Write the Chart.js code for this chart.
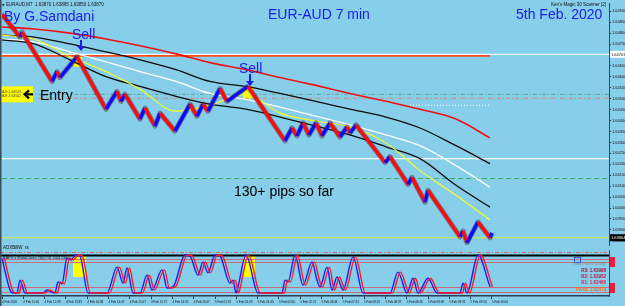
<!DOCTYPE html>
<html><head><meta charset="utf-8">
<script src="https://cdn.jsdelivr.net/npm/chart.js@4.4.1/dist/chart.umd.min.js"></script>
<style>
html,body{margin:0;padding:0;background:#87ceeb;}
#wrap{position:relative;width:625px;height:306px;overflow:hidden;background:#87ceeb;}
#c1{position:absolute;left:0;top:0;}
#c2{position:absolute;left:0;top:249px;}
</style></head><body>
<div id="wrap"><canvas id="c1" width="625" height="249"></canvas><canvas id="c2" width="625" height="57"></canvas></div>
<script>
// ---------- DATA ----------
const renkoBar   = [0,9,10,25,27.5,29,37.5,52,57.5,59.5,61.5,69,71.5,76.5,79,86.5,94,97.5,100.5,103,109,112.5,123,141.5,145,147.5,150.5,153.5,157,160,164,169,172.5,174,177,191.5,194,203,205,211.5,213,229,230.5,232.5,238,244,245];
const renkoPrice = [1.64886,1.64782,1.64805,1.64579,1.64624,1.64597,1.64692,1.64452,1.64533,1.64488,1.64520,1.64407,1.64457,1.64375,1.64434,1.64352,1.64475,1.64420,1.64475,1.64443,1.64547,1.64488,1.64556,1.64307,1.64366,1.64330,1.64389,1.64334,1.64389,1.64330,1.64389,1.64325,1.64371,1.64343,1.64380,1.64208,1.64235,1.64108,1.64140,1.64027,1.64081,1.63868,1.63895,1.63841,1.63936,1.63864,1.63886];

const maBar    = [0,16,34,52,69,87,104,122,139,157,174,192,209,227,244];
const maRed    = [1.64828,1.64819,1.64800,1.64773,1.64742,1.64705,1.64665,1.64633,1.64597,1.64561,1.64524,1.64488,1.64452,1.64407,1.64321];
const maBlack1 = [1.64791,1.64782,1.64751,1.64714,1.64678,1.64633,1.64579,1.64556,1.64524,1.64488,1.64452,1.64416,1.64366,1.64285,1.64203];
const maWhite  = [1.64773,1.64760,1.64714,1.64669,1.64624,1.64579,1.64524,1.64497,1.64461,1.64420,1.64380,1.64334,1.64285,1.64194,1.64095];
const maBlack2 = [1.64769,1.64751,1.64678,1.64601,1.64556,1.64511,1.64475,1.64452,1.64416,1.64375,1.64334,1.64280,1.64226,1.64104,1.64004];
const maYellow = [1.64791,1.64773,1.64692,1.64624,1.64543,1.64443,1.64470,1.64520,1.64434,1.64398,1.64371,1.64298,1.64171,1.64058,1.63945];

// horizontal price levels
const levelWhite = 1.64703, levelOrange = 1.64696, levelGreenDD = 1.64520, levelRedDD = 1.64502;
const levelWhite2 = 1.64226, levelGreenDash = 1.64135, levelBid = 1.63864, levelDotted = 1.64470;
const entryPrice = 1.64520;
const sellBar = [37.5, 123];
const sellPrice = [1.64692, 1.64556];

const oscBar   = [0,4,5.5,7.5,9,11.5,20.5,22.5,24.5,26.5,28,30,32.5,34.5,37,39,43,52.5,57.5,60.5,62.5,65.5,69,72.5,75,80,82.5,85.5,91.5,94,98,100.5,103,106.5,109,114,115.5,117,118,122,128,140,141.5,143,146.5,150.5,155,157.5,159,162.5,165,167.5,170.5,175.5,180.5,194,198,202.5,205.5,208,213,217.5,229,230.5,232.5,238,244];
const oscValue = [92,8,0,0,34,0,0,8,3,0,29,24,92,87,100,97,0,0,68,26,66,0,0,47,8,61,13,16,100,97,47,82,53,100,97,26,34,0,16,100,0,0,34,29,100,21,82,34,16,68,8,42,8,95,0,0,55,0,39,0,39,0,0,26,0,100,16];
const oscLevels = [109, 101, 90, 82, 16, 3];
const oscBoxBars = [[35.5,42],[120.5,126.5]];

const timeLabels = ["4 Feb 2020","4 Feb 11:00","4 Feb 12:49","4 Feb 13:33","4 Feb 14:08","4 Feb 14:47","4 Feb 15:07","4 Feb 15:57","4 Feb 16:31","4 Feb 20:07","5 Feb 01:23","5 Feb 01:29","5 Feb 01:40","5 Feb 02:00","5 Feb 02:21","5 Feb 03:44","5 Feb 07:23","5 Feb 08:25","5 Feb 08:37","5 Feb 08:46","5 Feb 09:09","5 Feb 09:31","5 Feb 09:54","5 Feb 10:04"];
const pivotLabels = ["R3: 1.63998","R2: 1.63952","R1: 1.63466","Pivot: 1.63473"];

// ---------- LAYOUT CONSTANTS ----------
const X_MAX = 303.5, LABEL_STEP = 10.65;
const Y_MIN = 1.63828, Y_MAX = 1.64936;
const FONT = '"Liberation Sans", Arial, sans-serif';
const NARROW = '"Liberation Sans Narrow", "Liberation Sans", Arial, sans-serif';
const pts = (xs, ys) => xs.map((x, i) => ({x, y: ys[i]}));
const hline = (p, x0, x1) => [{x: x0, y: p}, {x: x1, y: p}];

const lineDs = (data, color, width, extra) => Object.assign({
  data, borderColor: color, borderWidth: width, pointRadius: 0, fill: false,
  tension: 0, borderJoinStyle: 'round', borderCapStyle: 'butt'
}, extra || {});

// ---------- MAIN CHART ----------
const deco1 = {
  id: 'deco1',
  beforeDatasetsDraw(chart) {
    const {ctx, scales: {x, y}} = chart;
    ctx.save();
    ctx.fillStyle = '#ffff00';
    const offs = [[-3, 5, -1, 10], [-5, 5, 0, 12]];
    sellBar.forEach((b, i) => {
      const px = x.getPixelForValue(b), py = y.getPixelForValue(sellPrice[i]);
      const o = offs[i];
      ctx.fillRect(px + o[0], py + o[2], o[1] - o[0], o[3] - o[2]);
    });
    ctx.restore();
  },
  afterDatasetsDraw(chart) {
    const {ctx, scales: {x, y}} = chart;
    ctx.save();
    ctx.fillStyle = '#111';
    ctx.font = '4.5px ' + FONT;
    ctx.textBaseline = 'alphabetic';
    ctx.fillText('\u25CF EURAUD,M7  1.63870 1.63895 1.63850 1.63870', 2, 6);
    ctx.textAlign = 'right';
    ctx.fillText("Ken's Magic 30 Scanner [2]", 606, 5.5);
    ctx.textAlign = 'left';
    ctx.fillText('ADXBillW_rs', 3, 248.5);

    ctx.fillStyle = '#1c1ce8';
    ctx.font = '14px ' + FONT;
    ctx.fillText('By G.Samdani', 4, 21);
    ctx.fillText('EUR-AUD 7 min', 268, 19);
    ctx.fillText('5th Feb. 2020', 516, 19);
    ctx.fillText('Sell', 72, 39);
    ctx.fillText('Sell', 239, 73);
    const arrow = (ax, y0, y1) => {
      ctx.strokeStyle = '#1c1ce8'; ctx.lineWidth = 2;
      ctx.beginPath(); ctx.moveTo(ax, y0); ctx.lineTo(ax, y1 - 4); ctx.stroke();
      ctx.beginPath(); ctx.moveTo(ax - 4, y1 - 5); ctx.lineTo(ax + 4, y1 - 5); ctx.lineTo(ax, y1); ctx.closePath();
      ctx.fillStyle = '#1c1ce8'; ctx.fill();
    };
    arrow(81, 40, 51);
    arrow(250, 74, 86);

    const ey = y.getPixelForValue(entryPrice);
    ctx.fillStyle = '#ffff00';
    ctx.fillRect(1, ey - 8, 32, 16);
    ctx.fillStyle = '#444';
    ctx.font = '3.5px ' + FONT;
    ctx.fillText('A.E.1.64520 ..', 2, ey - 1);
    ctx.fillText('A.E.1.64502 ..', 2, ey + 3);
    ctx.strokeStyle = '#000'; ctx.lineWidth = 2.2;
    ctx.beginPath(); ctx.moveTo(33, ey); ctx.lineTo(25, ey); ctx.stroke();
    ctx.beginPath(); ctx.moveTo(29, ey - 4); ctx.lineTo(24.5, ey); ctx.lineTo(29, ey + 4); ctx.stroke();
    ctx.fillStyle = '#000';
    ctx.font = '14px ' + FONT;
    ctx.fillText('Entry', 40, ey + 6);
    ctx.fillText('130+ pips so far', 234, 196);

    ctx.font = '4px ' + NARROW;
    const wy = y.getPixelForValue(levelWhite);
    ctx.fillStyle = '#ffffff'; ctx.fillRect(610, wy - 3.5, 15, 7);
    ctx.fillStyle = '#111'; ctx.fillText(levelWhite.toFixed(5), 611, wy + 1.5);
    const by = y.getPixelForValue(levelBid);
    ctx.fillStyle = '#000'; ctx.fillRect(610, by - 3.5, 15, 7);
    ctx.fillStyle = '#fff'; ctx.fillText(levelBid.toFixed(5), 611, by + 1.5);

    ctx.fillStyle = '#3c4c5c';
    ctx.fillRect(0, 0, 1.5, chart.height);
    ctx.restore();
  }
};

const renkoSeg = { borderColor: c => (c.p1.parsed.y > c.p0.parsed.y ? '#0a0aff' : '#ff0a0a') };

new Chart(document.getElementById('c1'), {
  type: 'line',
  data: {
    datasets: [
      lineDs(pts(renkoBar, renkoPrice), '#ff0a0a', 3.4, { segment: renkoSeg }),
      lineDs(pts(renkoBar, renkoPrice), 'rgba(70,25,30,0.42)', 5.2),
      lineDs(pts(maBar, maYellow), '#ffff1a', 1.1, { cubicInterpolationMode: 'monotone' }),
      lineDs(pts(maBar, maBlack2), '#0d0d0d', 1.3, { cubicInterpolationMode: 'monotone' }),
      lineDs(pts(maBar, maWhite), '#ffffff', 1.3, { cubicInterpolationMode: 'monotone' }),
      lineDs(pts(maBar, maBlack1), '#0d0d0d', 1.3, { cubicInterpolationMode: 'monotone' }),
      lineDs(pts(maBar, maRed), '#f01010', 1.6, { cubicInterpolationMode: 'monotone' }),
      lineDs(hline(levelOrange, 0, 244), '#ff4a1a', 1.6),
      lineDs(hline(levelWhite, 0, X_MAX), '#ffffff', 1.4),
      lineDs(hline(levelDotted, 204, 244), '#ffffff', 1, { borderDash: [1, 2] }),
      lineDs(hline(levelGreenDD, 0, X_MAX), '#5fa88a', 1, { borderDash: [4, 2, 1, 2] }),
      lineDs(hline(levelRedDD, 0, X_MAX), '#d98a70', 1, { borderDash: [4, 2, 1, 2] }),
      lineDs(hline(levelWhite2, 0, X_MAX), '#ffffff', 1.4),
      lineDs(hline(levelGreenDash, 0, X_MAX), '#3cae6a', 1.2, { borderDash: [5, 3] }),
      lineDs(hline(levelBid, 0, X_MAX), '#d8e83a', 1.2)
    ]
  },
  options: {
    responsive: false, animation: false, events: [],
    layout: { padding: { left: 2, top: 1, bottom: 3, right: 0 } },
    plugins: { legend: { display: false }, tooltip: { enabled: false } },
    scales: {
      x: { type: 'linear', display: false, min: 0, max: X_MAX },
      y: {
        position: 'right', min: Y_MIN, max: Y_MAX,
        afterFit: s => { s.width = 16; },
        grid: { drawOnChartArea: false, tickLength: 2, color: '#333' },
        border: { color: '#34495c', width: 1 },
        ticks: { stepSize: 0.0005, includeBounds: false, padding: 1, color: '#111',
          font: { size: 4, family: NARROW }, callback: v => v.toFixed(5) }
      }
    }
  },
  plugins: [deco1]
});

// ---------- INDICATOR CHART ----------
const deco2 = {
  id: 'deco2',
  beforeDatasetsDraw(chart) {
    const {ctx, scales: {x, y}, chartArea: ca} = chart;
    ctx.save();
    ctx.fillStyle = '#ffff00';
    oscBoxBars.forEach(b => {
      const x0 = x.getPixelForValue(b[0]), x1 = x.getPixelForValue(b[1]);
      const y0 = y.getPixelForValue(100), y1 = y.getPixelForValue(42);
      ctx.fillRect(x0, y0, x1 - x0, y1 - y0);
    });
    const styles = [
      { c: '#d06a6a', w: 1, d: [4, 2, 1, 2] },
      { c: '#000000', w: 1.8, d: [] },
      { c: '#c86e7e', w: 1, d: [] },
      { c: '#c86e7e', w: 1, d: [] },
      { c: '#c86e7e', w: 1, d: [] },
      { c: '#c86e7e', w: 1, d: [] }
    ];
    oscLevels.forEach((v, i) => {
      const py = Math.round(y.getPixelForValue(v)) + 0.5;
      const s = styles[i];
      ctx.strokeStyle = s.c; ctx.lineWidth = s.w; ctx.setLineDash(s.d);
      ctx.beginPath(); ctx.moveTo(ca.left - 2, py); ctx.lineTo(ca.right, py); ctx.stroke();
    });
    ctx.setLineDash([]);
    ctx.restore();
  },
  afterDraw(chart) {
    const {ctx} = chart;
    ctx.save();
    ctx.fillStyle = '#111';
    ctx.font = '4px ' + FONT;
    ctx.fillText("EAFX's MulaCross 26(5#3) 24(4,56)", 3, 10);
    ctx.strokeStyle = '#3a5ad0'; ctx.lineWidth = 1;
    ctx.strokeRect(574.5, 8.5, 6, 5);
    ctx.fillStyle = '#8a8a8a';
    ctx.textAlign = 'right';
    ctx.fillText('Pivot Points (Daily)', 606, 16);
    const pc = ['#b0102a', '#d01040', '#e0204a', '#ff6a10'];
    ctx.font = 'bold 4.5px ' + FONT;
    pivotLabels.forEach((t, i) => { ctx.fillStyle = pc[i]; ctx.fillText(t, 606, 23 + i * 6.2); });
    ctx.textAlign = 'left';
    ctx.fillStyle = '#e82040';
    ctx.fillRect(610, 8, 5, 10);
    ctx.fillRect(610, 34, 5, 10);
    ctx.fillStyle = '#3c4c5c';
    ctx.fillRect(0, 0, 1.5, chart.height);
    ctx.restore();
  }
};

new Chart(document.getElementById('c2'), {
  type: 'line',
  data: {
    datasets: [
      lineDs(pts(oscBar.map(b => b + 1.2), oscValue), '#ff1a1a', 1.4, { cubicInterpolationMode: 'monotone' }),
      lineDs(pts(oscBar, oscValue), '#1a1aff', 1.4, { cubicInterpolationMode: 'monotone' })
    ]
  },
  options: {
    responsive: false, animation: false, events: [],
    layout: { padding: { left: 2, top: 1, bottom: 0, right: 0 } },
    plugins: { legend: { display: false }, tooltip: { enabled: false } },
    scales: {
      x: {
        type: 'linear', min: 0, max: X_MAX, position: 'bottom',
        afterFit: s => { s.height = 10; },
        afterBuildTicks: s => { s.ticks = timeLabels.map((t, i) => ({ value: i * LABEL_STEP })); },
        grid: { drawOnChartArea: false, tickLength: 3, color: '#2a3d55' },
        border: { color: '#2a3d55', width: 1.5 },
        ticks: { autoSkip: false, maxRotation: 0, align: 'start', padding: 1, color: '#111',
          font: { size: 3, family: NARROW }, callback: (v, i) => timeLabels[i] }
      },
      y: {
        position: 'right', min: -7.9, max: 113.2,
        afterFit: s => { s.width = 16; },
        grid: { display: false },
        border: { color: '#34495c', width: 1 },
        ticks: { display: false }
      }
    }
  },
  plugins: [deco2]
});
</script>
</body></html>
